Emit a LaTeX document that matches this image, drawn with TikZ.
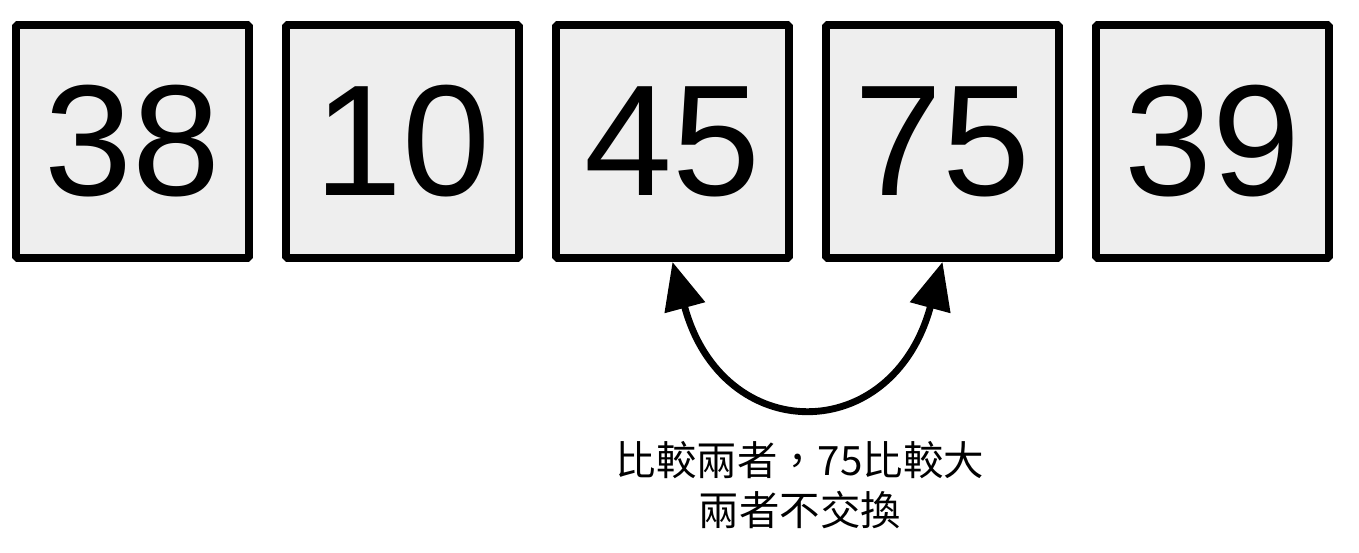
\documentclass[tikz,border=0pt]{standalone}
\usepackage{fontspec}
\setmainfont{Liberation Sans}
\newfontfamily\cjk{Noto Sans CJK TC}
\usetikzlibrary{arrows.meta}
\definecolor{boxgray}{HTML}{EEEEEE}
\tikzset{
  numbox/.style={draw=black,fill=boxgray,line width=4.5pt,rounded corners=1pt,
    minimum size=4.66cm,inner sep=0pt,font=\fontsize{90}{90}\selectfont},
  swaparrow/.style={line width=3.9pt,
    {Triangle[length=27pt,width=23pt]}-{Triangle[length=27pt,width=23pt]}}
}
\begin{document}
\begin{tikzpicture}[x=0.02cm,y=-0.02cm]
  \useasboundingbox (0,0) rectangle (1359,553);

  % Number boxes
  \foreach \val [count=\i] in {38,10,45,75,39}
    \node[numbox] (b\i) at ({132.5+270*(\i-1)},141.5) {\val};

  % Compare arrow
  \draw[swaparrow] (b3.south) .. controls +(50,185) and +(-50,185) .. (b4.south);

  % Note
  \node[font=\cjk\fontsize{23}{28}\selectfont,align=center] (note) at (800,485)
    {比較兩者，75比較大\\兩者不交換};
\end{tikzpicture}
\end{document}
